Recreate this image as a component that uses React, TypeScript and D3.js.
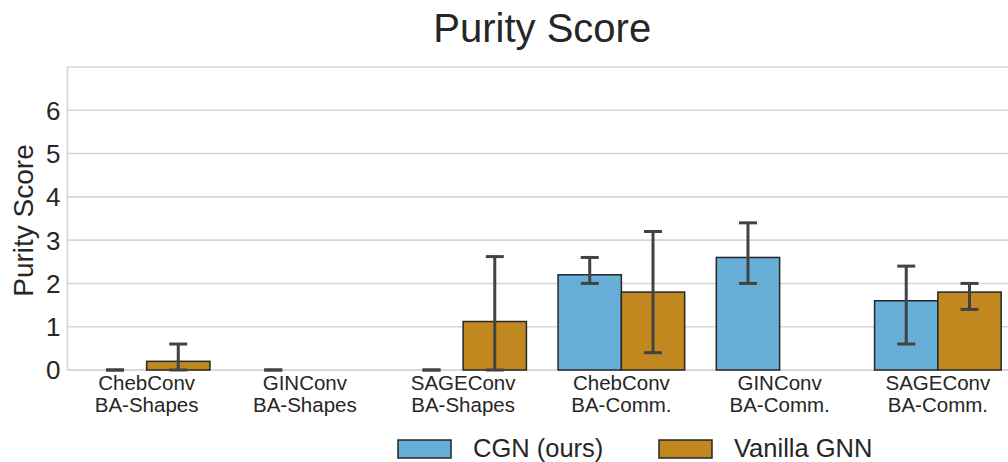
import React from "react";
import * as d3 from "d3";

const categories = [
  ["ChebConv", "BA-Shapes"],
  ["GINConv", "BA-Shapes"],
  ["SAGEConv", "BA-Shapes"],
  ["ChebConv", "BA-Comm."],
  ["GINConv", "BA-Comm."],
  ["SAGEConv", "BA-Comm."],
];
const seriesNames = ["CGN (ours)", "Vanilla GNN"];
const cgnMean: (number | null)[] = [0, 0, 0, 2.2, 2.6, 1.6];
const cgnLow: (number | null)[] = [0, 0, 0, 2.0, 2.0, 0.6];
const cgnHigh: (number | null)[] = [0, 0, 0, 2.6, 3.4, 2.4];
const vanMean: (number | null)[] = [0.2, null, 1.12, 1.8, null, 1.8];
const vanLow: (number | null)[] = [0, null, 0, 0.4, null, 1.4];
const vanHigh: (number | null)[] = [0.6, null, 2.62, 3.2, null, 2.0];
const yTicks = [0, 1, 2, 3, 4, 5, 6];
const colors = ["#67afd7", "#c28820"];

const W = 1008;
const H = 462;
const font = "Liberation Sans, Arial, Helvetica, sans-serif";

export default function App() {
  const left = 67.5, right = 1017, top = 67, bottom = 370;
  const y = d3.scaleLinear().domain([0, 7]).range([bottom, top]);
  const keys = categories.map((c) => c.join(" "));
  const x = d3.scaleBand<string>().domain(keys).range([left, right]).padding(0);
  const bw = x.bandwidth();
  const inner = d3
    .scaleBand<string>()
    .domain(seriesNames)
    .range([bw * 0.1, bw * 0.9])
    .padding(0);
  const series = [
    { name: seriesNames[0], mean: cgnMean, lo: cgnLow, hi: cgnHigh, color: colors[0] },
    { name: seriesNames[1], mean: vanMean, lo: vanLow, hi: vanHigh, color: colors[1] },
  ];
  const grid = "#d6d6d6";
  const text = "#262626";
  const capW = 18;

  return (
    <svg width={W} height={H} style={{ position: "absolute", left: 0, top: 0 }}>
      <rect x={0} y={0} width={W} height={H} fill="#fff" />
      {/* grid */}
      {yTicks.map((t) => (
        <line key={t} x1={left} x2={right} y1={y(t)} y2={y(t)} stroke={grid} strokeWidth={1.6} />
      ))}
      <line x1={left} x2={right} y1={top} y2={top} stroke={grid} strokeWidth={1.6} />
      <line x1={left} x2={left} y1={top} y2={bottom} stroke={grid} strokeWidth={1.6} />
      <line x1={left} x2={right} y1={bottom} y2={bottom} stroke={grid} strokeWidth={1.6} />
      {/* bars */}
      {series.map((s) =>
        keys.map((k, i) => {
          const m = s.mean[i];
          if (m === null) return null;
          const bx = (x(k) as number) + (inner(s.name) as number);
          const w = inner.bandwidth();
          const cx = bx + w / 2;
          const lo = s.lo[i] as number;
          const hi = s.hi[i] as number;
          return (
            <g key={s.name + k}>
              {m > 0 && (
                <rect
                  x={bx}
                  y={y(m)}
                  width={w}
                  height={y(0) - y(m)}
                  fill={s.color}
                  stroke="#262626"
                  strokeWidth={1.5}
                />
              )}
              <line x1={cx} x2={cx} y1={y(lo)} y2={y(hi)} stroke="#424242" strokeWidth={3} />
              <line x1={cx - capW / 2} x2={cx + capW / 2} y1={y(lo)} y2={y(lo)} stroke="#424242" strokeWidth={3} />
              <line x1={cx - capW / 2} x2={cx + capW / 2} y1={y(hi)} y2={y(hi)} stroke="#424242" strokeWidth={3} />
            </g>
          );
        })
      )}
      {/* y ticks */}
      {yTicks.map((t) => (
        <text
          key={t}
          x={left - 7}
          y={y(t)}
          dy="0.36em"
          textAnchor="end"
          fontFamily={font}
          fontSize={26}
          fill={text}
        >
          {t}
        </text>
      ))}
      {/* x ticks */}
      {categories.map((c, i) => {
        const cx = (x(keys[i]) as number) + bw / 2;
        return (
          <text key={i} textAnchor="middle" fontFamily={font} fontSize={20.5} fill={text}>
            <tspan x={cx} y={390}>{c[0]}</tspan>
            <tspan x={cx} y={412}>{c[1]}</tspan>
          </text>
        );
      })}
      {/* y label */}
      <text
        transform={`translate(${33},${(top + bottom) / 2 + 2}) rotate(-90)`}
        textAnchor="middle"
        fontFamily={font}
        fontSize={28}
        fill={text}
      >
        Purity Score
      </text>
      {/* title */}
      <text x={(left + right) / 2} y={42} textAnchor="middle" fontFamily={font} fontSize={40} fill={text}>
        Purity Score
      </text>
      {/* legend */}
      {[
        { name: seriesNames[0], color: colors[0], x: 398 },
        { name: seriesNames[1], color: colors[1], x: 659 },
      ].map((l) => (
        <g key={l.name}>
          <rect x={l.x} y={440} width={53} height={18} fill={l.color} stroke="#262626" strokeWidth={1.5} />
          <text x={l.x + 75} y={457} fontFamily={font} fontSize={25.5} fill={text}>
            {l.name}
          </text>
        </g>
      ))}
    </svg>
  );
}
